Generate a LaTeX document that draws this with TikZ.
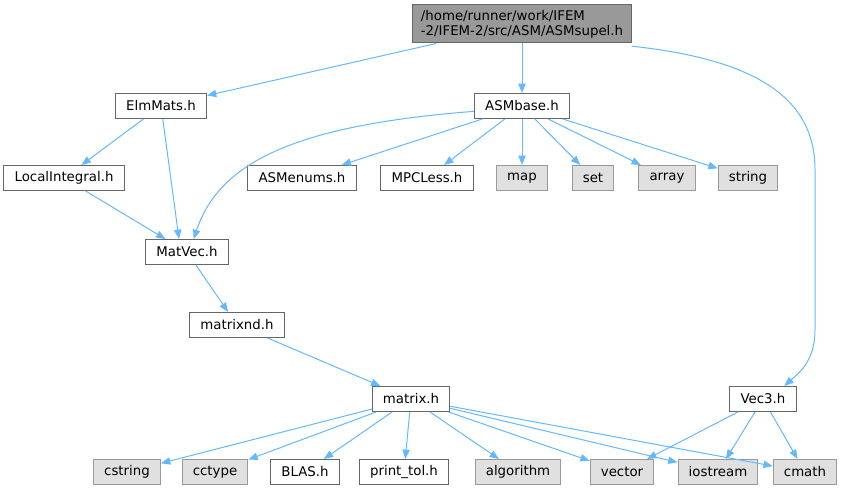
\documentclass[tikz,border=0pt]{standalone}
\usepackage{fontspec}
\setmainfont{DejaVu Sans}
\usetikzlibrary{arrows.meta}
\definecolor{L}{RGB}{99,184,255}
\definecolor{D}{RGB}{102,102,102}
\definecolor{H}{RGB}{153,153,153}
\definecolor{S}{RGB}{224,224,224}

\begin{document}
\begin{tikzpicture}[x=0.75pt,y=-0.75pt,
  filebox/.style={draw=D, fill=white, line width=0.75pt, inner xsep=8pt, inner ysep=0pt,
    minimum height=18.75pt, font=\fontsize{10}{11.5}\selectfont},
  sysbox/.style={filebox, draw=H, fill=S},
  rootbox/.style={filebox, fill=H, align=left, minimum height=28.5pt, inner xsep=6pt},
  dep/.style={draw=L, line width=0.75pt, -{Triangle[length=7pt,width=5.5pt]}}]
  \useasboundingbox (0,0) rectangle (849,491);

  \node[rootbox] (root) at (522,24) {/home/runner/work/IFEM\\-2/IFEM-2/src/ASM/ASMsupel.h};
  \node[filebox] (elm) at (161,106) {ElmMats.h};
  \node[filebox] (base) at (522,106) {ASMbase.h};
  \node[filebox] (local) at (64,178) {LocalIntegral.h};
  \node[filebox] (enums) at (302,178) {ASMenums.h};
  \node[filebox] (mpc) at (427,178) {MPCLess.h};
  \node[sysbox] (map) at (522,178) {map};
  \node[sysbox] (set) at (593,178) {set};
  \node[sysbox] (array) at (667,178) {array};
  \node[sysbox] (string) at (748,178) {string};
  \node[filebox] (matvec) at (187,252) {MatVec.h};
  \node[filebox] (matnd) at (237,325) {matrixnd.h};
  \node[filebox] (matrix) at (411,399) {matrix.h};
  \node[filebox] (vec3) at (763,399) {Vec3.h};
  \node[sysbox] (cstring) at (127,472) {cstring};
  \node[sysbox] (cctype) at (215,472) {cctype};
  \node[filebox] (blas) at (305,472) {BLAS.h};
  \node[filebox] (tol) at (404,472) {print\_tol.h};
  \node[sysbox] (algo) at (518,472) {algorithm};
  \node[sysbox] (vector) at (622,472) {vector};
  \node[sysbox] (iostream) at (718,472) {iostream};
  \node[sysbox] (cmath) at (805,472) {cmath};

  \draw[dep] (root) -- (elm);
  \draw[dep] (root) -- (base);
  \draw[dep] ([yshift=-2pt]root.south east) .. controls (760,60) and (815,100) .. (815,170)
    -- (815,330) .. controls (815,360) and (800,372) .. ([xshift=16pt]vec3.north);
  \draw[dep] (elm) -- (local);
  \draw[dep] (elm) -- ([xshift=-6pt]matvec.north);
  \draw[dep] (local) -- (matvec);
  \draw[dep] ([yshift=-4pt]base.west) .. controls (300,125) and (220,160) .. ([xshift=5pt]matvec.north);
  \foreach \t in {enums,mpc,map,set,array,string}
    \draw[dep] (base) -- (\t);
  \draw[dep] (matvec) -- (matnd);
  \draw[dep] (matnd) -- (matrix);
  \foreach \t in {cstring,cctype,blas,tol,algo,vector,iostream,cmath}
    \draw[dep] (matrix) -- (\t);
  \foreach \t in {vector,iostream,cmath}
    \draw[dep] (vec3) -- (\t);
\end{tikzpicture}
\end{document}
